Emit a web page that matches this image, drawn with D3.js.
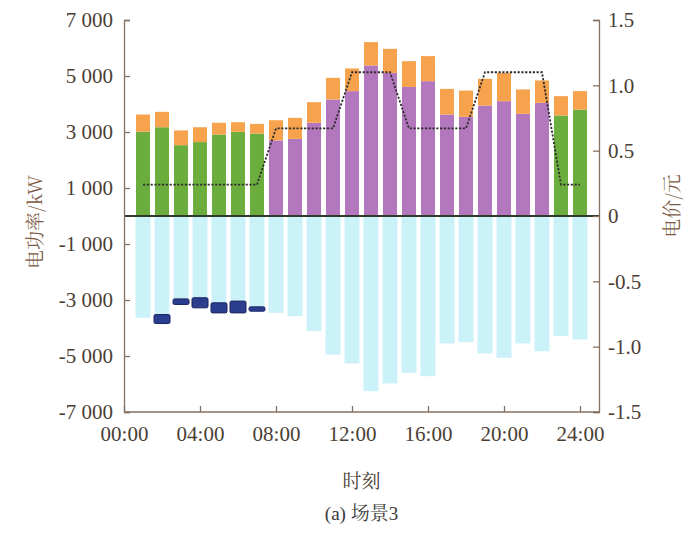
<!DOCTYPE html>
<html>
<head>
<meta charset="utf-8">
<script src="https://cdn.jsdelivr.net/npm/d3@7"></script>
<style>
  html, body { margin: 0; padding: 0; background: #fff; }
  svg { display: block; }
  .num { font-family: "Liberation Serif", "DejaVu Serif", serif; }
  .cjk { font-family: "Noto Serif CJK SC", "Noto Sans CJK SC", serif; }
</style>
</head>
<body>
<svg id="chart" width="697" height="535"></svg>
<script>
// Hourly dispatch, hours 1..24
const hours = d3.range(1, 25);

// Lower supply block (green in valley hours, purple otherwise), kW
const basePower = [3010, 3170, 2530, 2640, 2910, 3005, 2945, 2700, 2755, 3330, 4160, 4460,
                   5375, 5110, 4610, 4815, 3625, 3540, 3945, 4100, 3650, 4040, 3590, 3800];
// Upper supply block (orange), kW
const upperPower = [615, 550, 525, 530, 420, 345, 345, 720, 750, 735, 775, 810,
                    835, 860, 920, 895, 915, 940, 955, 1010, 870, 800, 690, 660];
// Load drawn below zero, kW
const loadPower = [-3636, -3520, -2960, -2920, -3100, -3040, -3245, -3460, -3580, -4110, -4950, -5270,
                   -6255, -5980, -5600, -5720, -4550, -4505, -4910, -5065, -4550, -4830, -4290, -4410];
// Storage charging, stacked below the load, kW
const chargePower = [0, -320, -200, -360, -360, -420, -155, 0, 0, 0, 0, 0,
                     0, 0, 0, 0, 0, 0, 0, 0, 0, 0, 0, 0];
// Time-of-use electricity price, 元
const price = [0.24, 0.24, 0.24, 0.24, 0.24, 0.24, 0.24, 0.67, 0.67, 0.67, 0.67, 1.10,
               1.10, 1.10, 0.67, 0.67, 0.67, 0.67, 1.10, 1.10, 1.10, 1.10, 0.24, 0.24];

const xTicks = [0, 4, 8, 12, 16, 20, 24];
const yLeftTicks = [7000, 5000, 3000, 1000, -1000, -3000, -5000, -7000];
const yRightTicks = [1.5, 1.0, 0.5, 0, -0.5, -1.0, -1.5];

const colors = {
  green: "#6cae3e",
  purple: "#b377bd",
  orange: "#f7a24c",
  cyan: "#cbf1f9",
  navy: "#2b3d8e",
  navyEdge: "#1c2563",
  axis: "#85705f",
  text: "#4b3e34",
  label: "#7c5a44",
  price: "#2e2e2e"
};

const m = { left: 124, right: 599, top: 20, bottom: 412 };

const svg = d3.select("#chart");

const x = d3.scaleLinear().domain([0, 25]).range([m.left, m.right]);
const y = d3.scaleLinear().domain([-7000, 7000]).range([m.bottom, m.top]);
const y2 = d3.scaleLinear().domain([-1.5, 1.5]).range([m.bottom, m.top]);

const barW = 14;
const rows = hours.map((h, i) => ({
  h,
  base: basePower[i],
  upper: upperPower[i],
  load: loadPower[i],
  charge: chargePower[i],
  price: price[i]
}));

const plot = svg.append("g");

// load below zero
plot.selectAll("rect.load").data(rows).join("rect")
  .attr("class", "load")
  .attr("x", d => x(d.h) - 7.5)
  .attr("width", 15)
  .attr("y", y(0))
  .attr("height", d => y(d.load) - y(0))
  .attr("fill", colors.cyan);

// storage charging below the load
plot.selectAll("rect.charge").data(rows.filter(d => d.charge < 0)).join("rect")
  .attr("class", "charge")
  .attr("x", d => x(d.h) - 8)
  .attr("width", 16)
  .attr("y", d => y(d.load))
  .attr("height", d => y(d.load + d.charge) - y(d.load))
  .attr("rx", 1.5)
  .attr("fill", colors.navy)
  .attr("stroke", colors.navyEdge)
  .attr("stroke-width", 1);

// lower supply block
plot.selectAll("rect.base").data(rows).join("rect")
  .attr("class", "base")
  .attr("x", d => x(d.h) - barW / 2)
  .attr("width", barW)
  .attr("y", d => y(d.base))
  .attr("height", d => y(0) - y(d.base))
  .attr("fill", d => d.price < 0.5 ? colors.green : colors.purple);

// upper supply block
plot.selectAll("rect.upper").data(rows).join("rect")
  .attr("class", "upper")
  .attr("x", d => x(d.h) - barW / 2)
  .attr("width", barW)
  .attr("y", d => y(d.base + d.upper))
  .attr("height", d => y(d.base) - y(d.base + d.upper))
  .attr("fill", colors.orange);

// zero line
plot.append("line")
  .attr("x1", m.left).attr("x2", m.right)
  .attr("y1", y(0)).attr("y2", y(0))
  .attr("stroke", "#2f3a2a")
  .attr("stroke-width", 2);

// price line
const priceLine = d3.line().x(d => x(d.h)).y(d => y2(d.price));
plot.append("path")
  .datum(rows)
  .attr("d", priceLine)
  .attr("fill", "none")
  .attr("stroke", colors.price)
  .attr("stroke-width", 1.8)
  .attr("stroke-dasharray", "2.2,1.6");

// axes
function styleAxis(g) {
  g.select(".domain").attr("stroke", colors.axis).attr("stroke-width", 1.3);
  g.selectAll(".tick line").attr("stroke", colors.axis).attr("stroke-width", 1.3);
  g.selectAll(".tick text")
    .attr("class", "num")
    .attr("fill", colors.text)
    .attr("font-size", 21);
}

const fmtLeft = v => (v < 0 ? "-" : "") + d3.format(",")(Math.abs(v)).replace(/,/g, " ");
const fmtRight = v => v === 0 ? "0" : (v < 0 ? "-" : "") + d3.format(".1f")(Math.abs(v));
const fmtHour = v => d3.format("02d")(v) + ":00";

svg.append("g")
  .attr("transform", `translate(${m.left},0)`)
  .call(d3.axisLeft(y).tickValues(yLeftTicks).tickFormat(fmtLeft).tickSizeInner(-6).tickSizeOuter(-6).tickPadding(11))
  .call(styleAxis)
  .call(g => g.selectAll(".tick text").style("white-space", "pre"));

svg.append("g")
  .attr("transform", `translate(${m.right},0)`)
  .call(d3.axisRight(y2).tickValues(yRightTicks).tickFormat(fmtRight).tickSizeInner(-6).tickSizeOuter(-6).tickPadding(9))
  .call(styleAxis);

svg.append("g")
  .attr("transform", `translate(0,${m.bottom})`)
  .call(d3.axisBottom(x).tickValues(xTicks).tickFormat(fmtHour).tickSizeInner(-6).tickSizeOuter(0).tickPadding(14))
  .call(g => g.select(".domain").attr("d", `M${m.left},0H${m.right}`))
  .call(styleAxis);

// axis titles
svg.append("text")
  .attr("class", "cjk")
  .attr("transform", `translate(33,${(m.top + m.bottom) / 2 + 6}) rotate(-90)`)
  .attr("text-anchor", "middle")
  .attr("dominant-baseline", "central")
  .attr("font-size", 19)
  .attr("fill", colors.label)
  .text("电功率/kW");

svg.append("text")
  .attr("class", "cjk")
  .attr("transform", `translate(670,${(m.top + m.bottom) / 2 - 10}) rotate(-90)`)
  .attr("text-anchor", "middle")
  .attr("dominant-baseline", "central")
  .attr("font-size", 19)
  .attr("fill", colors.label)
  .text("电价/元");

svg.append("text")
  .attr("class", "cjk")
  .attr("x", (m.left + m.right) / 2)
  .attr("y", 488)
  .attr("text-anchor", "middle")
  .attr("font-size", 19)
  .attr("fill", colors.text)
  .text("时刻");

svg.append("text")
  .attr("x", (m.left + m.right) / 2)
  .attr("y", 520)
  .attr("text-anchor", "middle")
  .attr("font-size", 19)
  .attr("fill", "#3a3a3a")
  .call(t => {
    t.append("tspan").attr("class", "num").text("(a) ");
    t.append("tspan").attr("class", "cjk").text("场景");
    t.append("tspan").attr("class", "num").text("3");
  });
</script>
</body>
</html>
